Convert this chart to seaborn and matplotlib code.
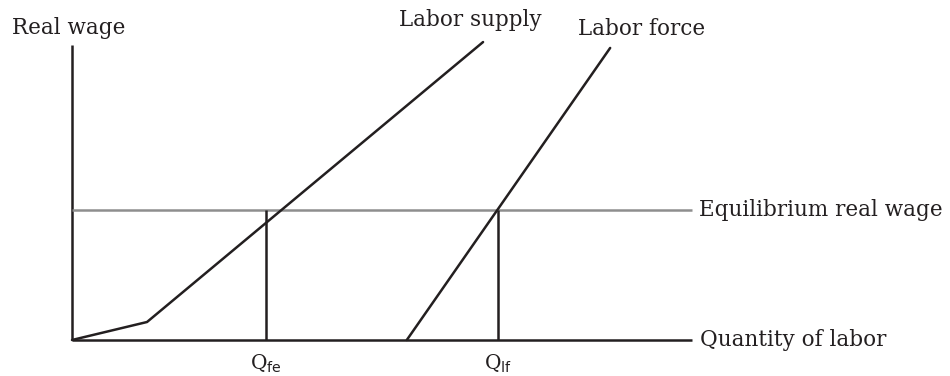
import matplotlib
matplotlib.use('Agg')
import matplotlib.pyplot as plt
import seaborn as sns
import pandas as pd

# Curve points (quantity, real wage) in arbitrary diagram units
supply_q = [0.0, 1.21, 6.63]
supply_w = [0.0, 0.61, 10.10]
force_q = [5.40, 8.68]
force_w = [0.0, 9.90]

# Equilibrium wage and the two quantities marked on the axis
eq_wage = 4.41
q_fe = 3.13
q_lf = 6.87
axis_end = 10.0

ink = '#231f20'
grey = '#8e8e8e'

sns.set_style('white')
plt.rcParams['font.family'] = ['DejaVu Serif']
plt.rcParams['mathtext.fontset'] = 'dejavuserif'

fig = plt.figure(figsize=[9.5, 3.76], dpi=100)
ax = fig.add_axes([0, 0, 1, 1])

supply = pd.DataFrame({'q': supply_q, 'w': supply_w})
force = pd.DataFrame({'q': force_q, 'w': force_w})

lw = 1.8

# axes of the diagram
ax.plot([0, 0], [0, axis_end], color=ink, lw=lw, solid_capstyle='butt')
ax.plot([0, axis_end], [0, 0], color=ink, lw=lw, solid_capstyle='butt')

# equilibrium real wage
ax.plot([0, axis_end], [eq_wage, eq_wage], color=grey, lw=lw, solid_capstyle='butt')

# curves
sns.lineplot(data=supply, x='q', y='w', sort=False, color=ink, lw=lw, ax=ax)
sns.lineplot(data=force, x='q', y='w', sort=False, color=ink, lw=lw, ax=ax)

# drop lines
ax.plot([q_fe, q_fe], [0, eq_wage], color=ink, lw=lw, solid_capstyle='butt')
ax.plot([q_lf, q_lf], [0, eq_wage], color=ink, lw=lw, solid_capstyle='butt')

# map data units to pixels: 62 px per x unit, 29.5 px per y unit
ax.set_xlim(-72 / 62, (950 - 72) / 62)
ax.set_ylim(-(376 - 340) / 29.5, 340 / 29.5)
ax.axis('off')

fs = 15.5
ax.text(-60 / 62, (340 - 28) / 29.5, 'Real wage', fontsize=fs, color=ink,
        ha='left', va='center')
ax.text((470 - 72) / 62, (340 - 20) / 29.5, 'Labor supply', fontsize=fs, color=ink,
        ha='center', va='center')
ax.text((642 - 72) / 62, (340 - 29) / 29.5, 'Labor force', fontsize=fs, color=ink,
        ha='center', va='center')
ax.text(axis_end + 0.11, eq_wage, 'Equilibrium real wage', fontsize=fs, color=ink,
        ha='left', va='center')
ax.text(axis_end + 0.13, 0, 'Quantity of labor', fontsize=fs, color=ink,
        ha='left', va='center')
ax.text(q_fe, -24 / 29.5, r'Q$_{\mathsf{fe}}$', fontsize=14.5, color=ink,
        ha='center', va='center')
ax.text(q_lf, -24 / 29.5, r'Q$_{\mathsf{lf}}$', fontsize=14.5, color=ink,
        ha='center', va='center')

fig.savefig('out.png', dpi=100)
